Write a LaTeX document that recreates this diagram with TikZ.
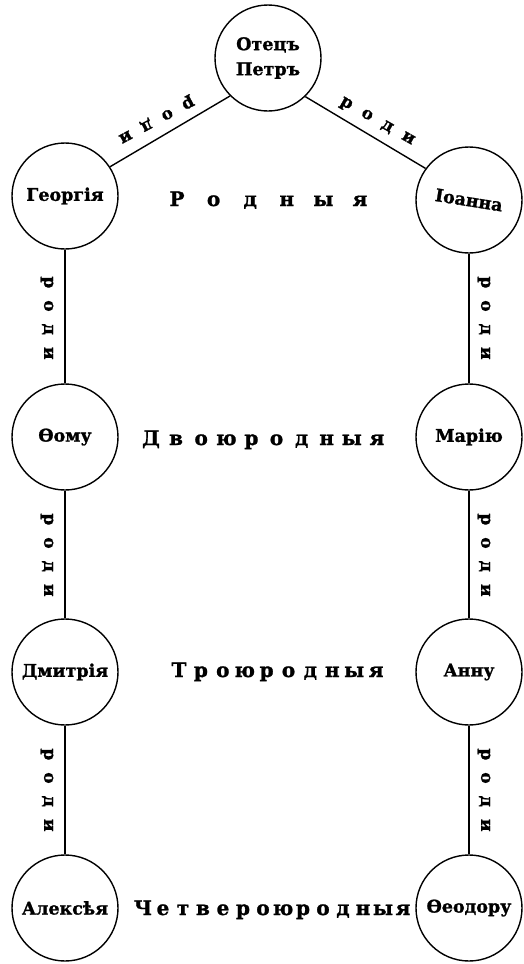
\documentclass[tikz,border=0pt]{standalone}
\usepackage{fontspec}
\setmainfont{DejaVu Serif}[BoldFeatures={FakeBold=1.2}]
\usepackage{graphicx}
\tikzset{
  person/.style={draw, circle, line width=1.4pt, minimum size=106pt, inner sep=0pt,
    font=\bfseries\fontsize{17.5}{25}\selectfont, align=center},
  link/.style={line width=1.4pt},
  lbl/.style={font=\bfseries\fontsize{17}{17}\selectfont, inner sep=0pt},
  gen/.style={font=\bfseries\fontsize{20}{20}\selectfont, inner sep=0pt, anchor=base},
}
\newcommand\rodi{р\kern12ptо\kern12ptд\kern12ptи}
\begin{document}
\begin{tikzpicture}[x=1pt,y=1pt]
\useasboundingbox (0,0) rectangle (523,-964);
% persons
\node[person] (peter)  at (268,-58)  {Отецъ\\Петръ};
\node[person] (georg)  at (65,-196)  {Георгія};
\node[person] (ioanna) at (469,-200) {\rotatebox{-9}{Іоанна}};
\node[person] (thomas) at (65,-437)  {Ѳому};
\node[person] (maria)  at (469,-437) {Марію};
\node[person] (dmitri) at (65,-672)  {Дмитрія};
\node[person] (anna)   at (469,-672) {Анну};
\node[person] (alexei) at (65,-908)  {Алексѣя};
\node[person] (theo)   at (469,-908) {Ѳеодору};
% connectors
\draw[link] (peter.225) -- (georg.33);
\draw[link] (peter.-46) -- (ioanna.144);
\draw[link] (georg.south) -- (thomas.north);
\draw[link] (thomas.south) -- (dmitri.north);
\draw[link] (dmitri.south) -- (alexei.north);
\draw[link] (ioanna.south) -- (maria.north);
\draw[link] (maria.south) -- (anna.north);
\draw[link] (anna.south) -- (theo.north);
% labels on connectors
\node[lbl, rotate=208]   (lt) at (156,-119) {\rodi};
\node[lbl, rotate=-29.5] (rt) at (377,-122) {\rodi};
\node[lbl, rotate=-90] (l1) at (47,-318) {\rodi};
\node[lbl, rotate=-90] (l2) at (47,-555) {\rodi};
\node[lbl, rotate=-90] (l3) at (47,-790) {\rodi};
\node[lbl, rotate=-90] (r1) at (484,-318) {\rodi};
\node[lbl, rotate=-90] (r2) at (484,-555) {\rodi};
\node[lbl, rotate=-90] (r3) at (484,-790) {\rodi};
% generation words
\foreach \c [count=\i from 0] in {Р,о,д,н,ы,я}
  \node[gen] (ga\i) at ({177+36.6*\i},-206) {\c};
\foreach \c [count=\i from 0] in {Д,в,о,ю,р,о,д,н,ы,я}
  \node[gen] (gb\i) at ({151+25.1*\i},-445) {\c};
\foreach \c [count=\i from 0] in {Т,р,о,ю,р,о,д,н,ы,я}
  \node[gen] (gc\i) at ({179+21.9*\i},-677) {\c};
\foreach \c [count=\i from 0] in {Ч,е,т,в,е,р,о,ю,р,о,д,н,ы,я}
  \node[gen] (gd\i) at ({143+20.0*\i},-915) {\c};
\end{tikzpicture}
\end{document}
